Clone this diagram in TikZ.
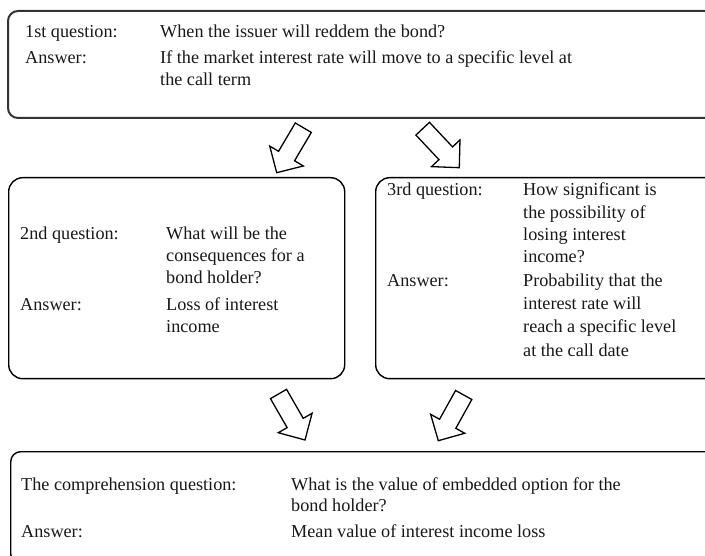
\documentclass[tikz,border=0pt]{standalone}
\usepackage{fontspec}
\setmainfont{Liberation Serif}
\usetikzlibrary{calc}
\tikzset{
  box/.style={draw=black, line width=1.4pt, rounded corners=14pt, inner sep=0pt, anchor=north west},
  topbox/.style={box, draw=black!80, line width=2pt, rounded corners=10pt},
  tx/.style={anchor=base west, inner sep=0pt, text=black!90},
  barrow/.style={draw=black, line width=1.3pt, fill=white, line join=miter}
}
\newcommand\blockarr[2]{%
  \coordinate (nk) at ($(#1)!0.63!(#2)$);
  \draw[barrow] ($(#1)!9.3pt!90:(#2)$) -- ($(nk)!9.3pt!90:(#2)$) -- ($(nk)!19.5pt!90:(#2)$) -- (#2)
     -- ($(nk)!19.5pt!-90:(#2)$) -- ($(nk)!9.3pt!-90:(#2)$) -- ($(#1)!9.3pt!-90:(#2)$) -- cycle;}
\begin{document}
\begin{tikzpicture}[x=1pt,y=-1pt,font=\fontsize{18.2}{22}\selectfont]
\useasboundingbox (0,0) rectangle (705,556);
\clip (0,0) rectangle (705,556);
\fill[white] (0,0) rectangle (705,556);
% boxes
\node[topbox, minimum width=740pt, minimum height=107pt] (b1) at (7,10) {};
\node[box, minimum width=336pt, minimum height=201pt] (b2) at (8,177) {};
\node[box, minimum width=370pt, minimum height=201pt] (b3) at (375,177) {};
\node[topbox, draw=black, line width=1.4pt, minimum width=740pt, minimum height=112pt] (b4) at (10,451) {};
% box 1
\node[tx] (q1) at (25,38) {1st question:};
\node[tx] (q1a) at (160,38) {When the issuer will reddem the bond?};
\node[tx] (a1) at (25,64) {Answer:};
\node[tx] (a1a) at (160,64) {If the market interest rate will move to a specific level at};
\node[tx] (a1b) at (160,86) {the call term};
% box 2
\node[tx] (q2) at (20,240) {2nd question:};
\node[tx] (q2a) at (166,240) {What will be the};
\node[tx] (q2b) at (166,262) {consequences for a};
\node[tx] (q2c) at (166,284) {bond holder?};
\node[tx] (a2) at (20,311) {Answer:};
\node[tx] (a2a) at (166,311) {Loss of interest};
\node[tx] (a2b) at (166,333) {income};
% box 3
\node[tx] (q3) at (387,196) {3rd question:};
\node[tx] (q3a) at (523,196) {How significant is};
\node[tx] (q3b) at (523,219) {the possibility of};
\node[tx] (q3c) at (523,241) {losing interest};
\node[tx] (q3d) at (523,263) {income?};
\node[tx] (a3) at (387,287) {Answer:};
\node[tx] (a3a) at (523,287) {Probability that the};
\node[tx] (a3b) at (523,310) {interest rate will};
\node[tx] (a3c) at (523,333) {reach a specific level};
\node[tx] (a3d) at (523,356) {at the call date};
% box 4
\node[tx] (q4) at (21,490) {The comprehension question:};
\node[tx] (q4a) at (291,490) {What is the value of embedded option for the};
\node[tx] (q4b) at (291,511) {bond holder?};
\node[tx] (a4) at (21,537) {Answer:};
\node[tx] (a4a) at (291,537) {Mean value of interest income loss};
% block arrows
\coordinate (t1) at (303.3,127.7); \coordinate (h1) at (276.7,172.7);
\coordinate (t2) at (422.7,128.7); \coordinate (h2) at (459.3,167.7);
\coordinate (t3) at (278.5,394);   \coordinate (h3) at (305,440);
\coordinate (t4) at (463.7,395);   \coordinate (h4) at (438.3,440.7);
\blockarr{t1}{h1}
\blockarr{t2}{h2}
\blockarr{t3}{h3}
\blockarr{t4}{h4}
\end{tikzpicture}
\end{document}
